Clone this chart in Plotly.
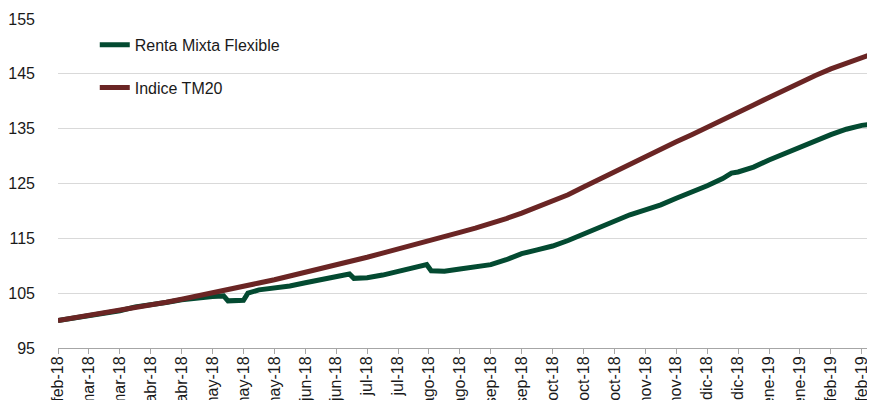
import pandas as pd
import plotly.graph_objects as go

START = pd.Timestamp("2018-02-20")

# Indice TM20 (weekly observations, days since start)
tm20_days = list(range(0, 365, 7)) + [370]
tm20_values = [100.0, 100.45, 100.9, 101.4, 101.9, 102.35, 102.8, 103.35, 103.9, 104.45,
               105.0, 105.55, 106.2, 106.85, 107.45, 108.1, 108.75, 109.4, 110.1, 110.8,
               111.55, 112.3, 113.1, 113.9, 114.6, 115.35, 116.1, 116.85, 117.65, 118.6,
               119.6, 120.65, 121.75, 122.95, 124.35, 125.75, 127.1, 128.6, 130.0, 131.3,
               132.6, 133.9, 135.2, 136.5, 137.9, 139.3, 140.7, 142.1, 143.4, 144.7,
               145.9, 146.9, 147.9, 148.8]

# Renta Mixta Flexible
rmf_days = [0, 7, 14, 21, 28, 35, 42, 49, 56, 63, 70, 75, 77, 84, 86, 91, 98, 105, 112,
            119, 126, 132, 134, 140, 147, 154, 161, 167, 169, 175, 182, 189, 196, 203,
            210, 217, 224, 231, 238, 245, 252, 259, 266, 273, 280, 287, 294, 301, 305,
            308, 315, 322, 329, 336, 343, 350, 357, 364, 370]
rmf_values = [100.0, 100.4, 100.85, 101.3, 101.8, 102.5, 102.8, 103.3, 103.8, 104.2,
              104.4, 104.5, 103.6, 103.7, 105.0, 105.6, 105.9, 106.3, 106.9, 107.5,
              108.0, 108.5, 107.7, 107.8, 108.3, 109.0, 109.7, 110.2, 109.1, 109.0,
              109.4, 109.8, 110.2, 111.1, 112.2, 112.9, 113.6, 114.6, 115.8, 116.9,
              118.2, 119.3, 120.2, 121.1, 122.3, 123.4, 124.6, 125.9, 126.9,
              127.1, 128.0, 129.3, 130.5, 131.7, 132.9, 133.9, 134.9, 135.6, 135.9]

tick_labels = ["feb-18", "mar-18", "mar-18", "abr-18", "abr-18", "may-18", "may-18",
               "may-18", "jun-18", "jun-18", "jul-18", "jul-18", "ago-18", "ago-18",
               "sep-18", "sep-18", "oct-18", "oct-18", "oct-18", "nov-18", "nov-18",
               "dic-18", "dic-18", "ene-19", "ene-19", "feb-19", "feb-19"]
tick_days = [14 * i for i in range(len(tick_labels))]

y_ticks = [95, 105, 115, 125, 135, 145, 155]

def to_dates(days):
    return [START + pd.Timedelta(days=d) for d in days]

GREEN = "#034a31"
RED = "#6a2524"
FONT = "Liberation Sans, Arial, sans-serif"

fig = go.Figure()
fig.add_trace(go.Scatter(x=to_dates(rmf_days), y=rmf_values, mode="lines",
                         name="Renta Mixta Flexible", legendgroup="a",
                         line=dict(color=GREEN, width=5)))
fig.add_trace(go.Scatter(x=to_dates(tm20_days), y=tm20_values, mode="lines",
                         name="Indice TM20", legendgroup="b",
                         line=dict(color=RED, width=5)))

# page body adds an 8px offset; figure sized to fill the rest of the window
fig.update_layout(
    width=867, height=392,
    margin=dict(l=50, r=0, t=11, b=52),
    paper_bgcolor="white", plot_bgcolor="white",
    font=dict(family=FONT, size=16, color="#1a1a1a"),
    showlegend=True,
    legend=dict(x=0.045, y=0.973, xanchor="left", yanchor="top",
                bgcolor="rgba(0,0,0,0)", font=dict(size=16),
                tracegroupgap=19, traceorder="grouped"),
    xaxis=dict(
        type="date", automargin=False,
        range=[START, START + pd.Timedelta(days=370)],
        tickvals=to_dates(tick_days), ticktext=tick_labels,
        tickangle=-90, tickfont=dict(size=16), ticklabelstandoff=-4,
        showgrid=False, showline=True, linecolor="#a6a6a6", linewidth=1,
        ticks="outside", ticklen=5, tickcolor="#a6a6a6",
    ),
    yaxis=dict(
        automargin=False,
        range=[95, 155], tickvals=y_ticks,
        showgrid=True, gridcolor="#d9d9d9", gridwidth=1,
        zeroline=False, showline=False, ticks="",
        ticklabelstandoff=22, tickfont=dict(size=16),
    ),
)

fig.write_html("out.html")
